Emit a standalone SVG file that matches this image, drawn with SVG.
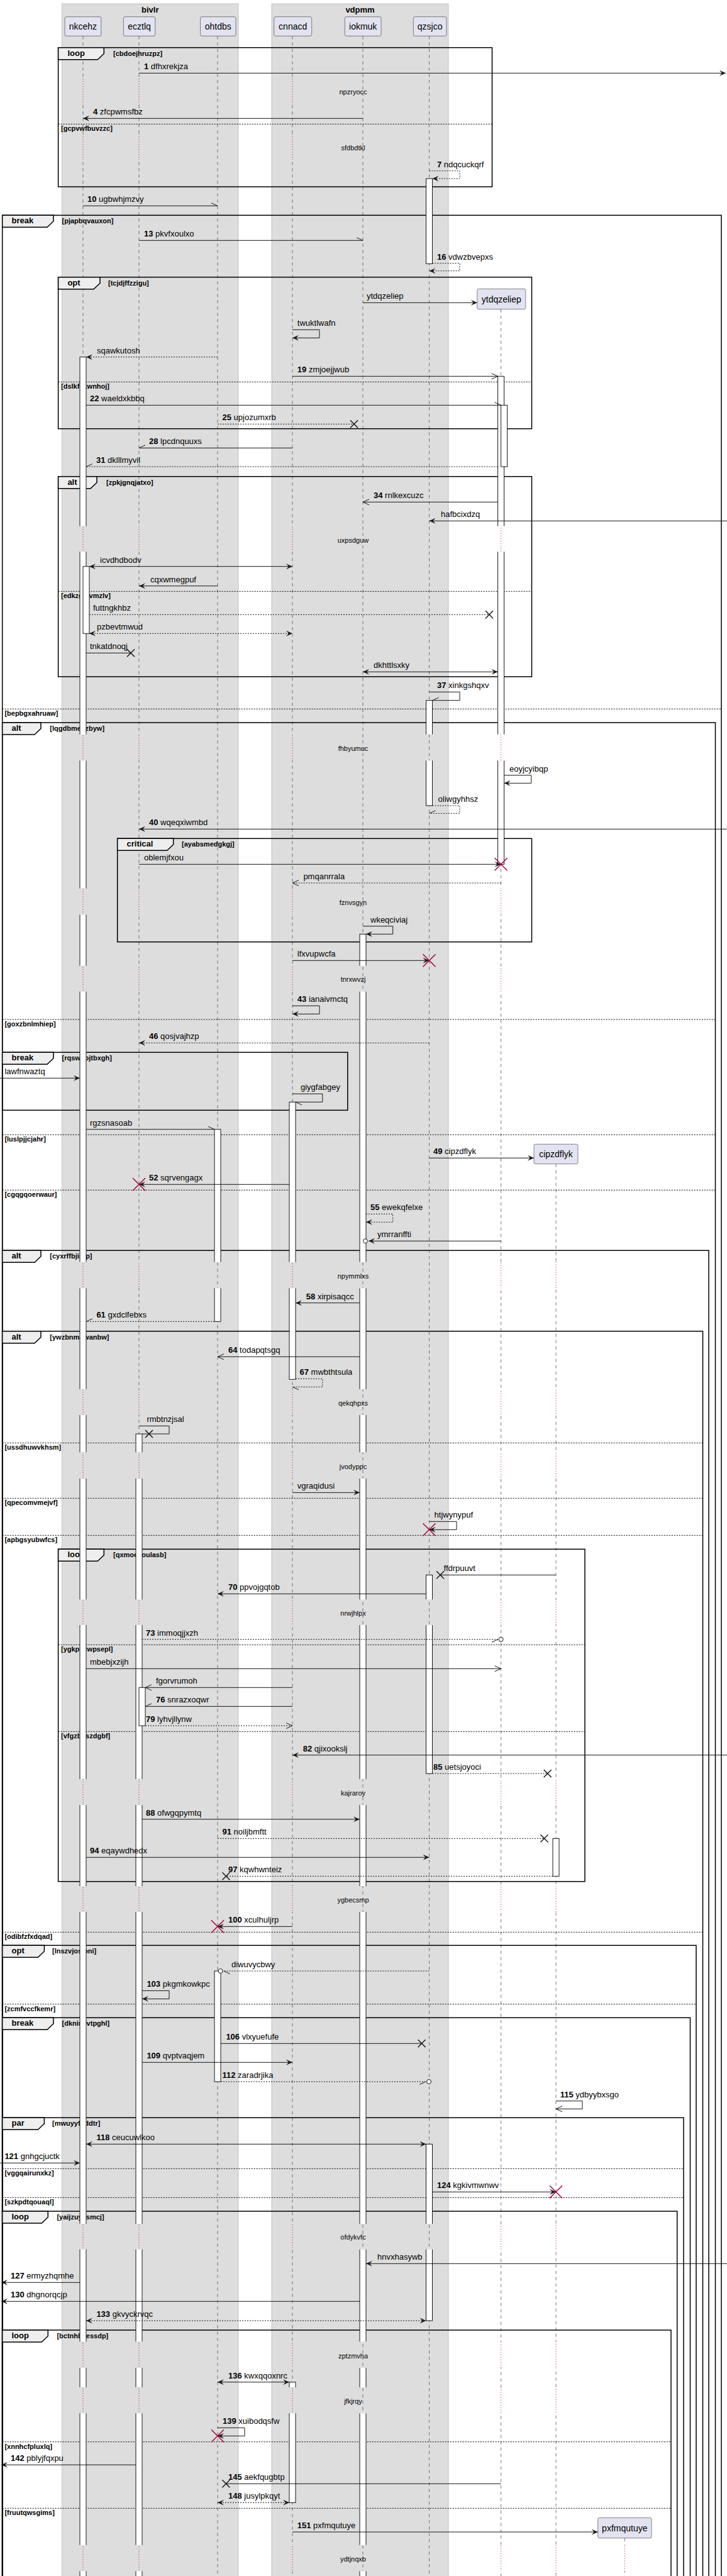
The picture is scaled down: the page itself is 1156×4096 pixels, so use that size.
<svg xmlns="http://www.w3.org/2000/svg" width="1156" height="4096" viewBox="0 0 1156 4096">
<style>
text{font-family:'Liberation Sans',Arial,sans-serif;fill:#000}
.m{font-size:13px}
.dt{font-size:11px;text-anchor:middle}
.c{font-size:11px;font-weight:bold}
.k{font-size:13px;font-weight:bold}
.p{font-size:14px;text-anchor:middle}
.bt{font-size:13px;font-weight:bold;text-anchor:middle}
.lf{stroke:#555;stroke-width:.8;stroke-dasharray:5,5;fill:none}
.dl{stroke:#A80036;stroke-width:1;stroke-dasharray:1,3;fill:none}
.act rect{fill:#fff;stroke:#181818;stroke-width:1}
.ms{fill:none;stroke:#181818;stroke-width:1}
.ds{stroke-dasharray:2,2}
.fr{fill:none;stroke:#000;stroke-width:1.5}
.tb{fill:#EEEEEE;stroke:#000;stroke-width:1.5}
.sp{fill:none;stroke:#000;stroke-width:1;stroke-dasharray:2,2}
.rx{stroke:#A80036;stroke-width:1.5;fill:none}
.bx{stroke:#181818;stroke-width:1.5;fill:none}
.pb{fill:#E2E2F0;stroke:#181818;stroke-width:.5}
.bg{fill:#DDDDDD;stroke:#999;stroke-width:.5}
.ci{fill:#fff;stroke:#181818;stroke-width:1}
</style>
<defs>
<marker id="f" markerUnits="userSpaceOnUse" orient="auto-start-reverse" overflow="visible" markerWidth="12" markerHeight="12"><path d="M0,0L-10,-4.5L-6,0L-10,4.5Z" fill="#181818"/></marker>
<marker id="o" markerUnits="userSpaceOnUse" orient="auto" overflow="visible" markerWidth="12" markerHeight="12"><path d="M-10,-4.5L0,0L-10,4.5" fill="none" stroke="#181818" stroke-width="1"/></marker>
<marker id="u" markerUnits="userSpaceOnUse" orient="auto" overflow="visible" markerWidth="12" markerHeight="12"><path d="M-10,-4.5L0,0" fill="none" stroke="#181818" stroke-width="1"/></marker>
<marker id="d" markerUnits="userSpaceOnUse" orient="auto" overflow="visible" markerWidth="12" markerHeight="12"><path d="M-10,4.5L0,0" fill="none" stroke="#181818" stroke-width="1"/></marker>
<path id="rX" class="rx" d="M-10,-10L10,10M10,-10L-10,10"/>
<path id="bX" class="bx" d="M-6,-6L6,6M6,-6L-6,6"/>
<g id="bands">
<rect y="125" width="1156" height="41"/><rect y="213" width="1156" height="41"/>
<rect y="836.7" width="1156" height="40.6"/><rect y="1167.7" width="1156" height="41.6"/>
<rect y="1412.7" width="1156" height="41.6"/><rect y="1535.7" width="1156" height="41"/>
<rect y="2006.7" width="1156" height="41.6"/><rect y="2209" width="1156" height="41"/>
<rect y="2309.3" width="1156" height="41.7"/><rect y="2543.3" width="1156" height="40.7"/>
<rect y="2829" width="1156" height="41"/><rect y="2999" width="1156" height="41"/>
<rect y="3536" width="1156" height="40.7"/><rect y="3723.3" width="1156" height="41.7"/>
<rect y="3796" width="1156" height="41.3"/><rect y="4046.7" width="1156" height="41.6"/>
</g>
<mask id="gap" maskUnits="userSpaceOnUse" x="0" y="0" width="1156" height="4200"><rect width="1156" height="4200" fill="#fff"/><use href="#bands" fill="#000"/></mask>
<mask id="dly" maskUnits="userSpaceOnUse" x="0" y="0" width="1156" height="4200"><use href="#bands" fill="#fff"/></mask>
</defs>
<rect width="1156" height="4096" fill="#fff"/>

<g id="box-bivlr"><rect class="bg" x="98.5" y="6" width="280.5" height="4100"/><text class="bt" x="238.8" y="19.5">bivlr</text></g>
<g id="box-vdpmm"><rect class="bg" x="432" y="6" width="281" height="4100"/><text class="bt" x="572.5" y="19.5">vdpmm</text></g>

<g id="lifelines">
<path class="lf" mask="url(#gap)" d="M132,57.3V4100M221,57.3V4100M465,57.3V4100M796.6,491.7V4100M884,1850.7V4100M993.3,4035.7V4100"/>
<path class="dl" mask="url(#dly)" d="M132,57.3V4100M221,57.3V4100M465,57.3V4100M796.6,491.7V4100M884,1850.7V4100M993.3,4035.7V4100"/>
<path class="lf" d="M346,57.3V4100M577,57.3V4100M682.5,57.3V4100"/>
</g>

<g id="frames">
<rect class="fr" x="92.6" y="75.7" width="689.9" height="221.3"/>
<rect class="fr" x="3.7" y="342.3" width="1143.3" height="3800"/>
<rect class="fr" x="92.6" y="440.7" width="752.9" height="241"/>
<rect class="fr" x="92.6" y="757.7" width="752.9" height="318.3"/>
<rect class="fr" x="3.7" y="1149" width="1133.8" height="3000"/>
<rect class="fr" x="186.7" y="1333.3" width="658.8" height="164.4"/>
<rect class="fr" x="3.7" y="1673.3" width="549.1" height="92"/>
<rect class="fr" x="3.7" y="1988.3" width="1123.3" height="2200"/>
<rect class="fr" x="3.7" y="2116.7" width="1113.8" height="2100"/>
<rect class="fr" x="92.6" y="2463.3" width="837.4" height="528.4"/>
<rect class="fr" x="3.7" y="3093.3" width="1103.3" height="1100"/>
<rect class="fr" x="3.7" y="3208.3" width="1093.8" height="1000"/>
<rect class="fr" x="3.7" y="3367.3" width="1083.3" height="800"/>
<rect class="fr" x="3.7" y="3516" width="1073" height="700"/>
<rect class="fr" x="3.7" y="3705" width="1063.3" height="500"/>
<path class="tb" d="M92.6,75.7H165.3V85.2L155.3,94.7H92.6Z"/>
<path class="tb" d="M3.7,342.3H85V351.8L75,361.3H3.7Z"/>
<path class="tb" d="M92.6,440.7H159V450.2L149,459.7H92.6Z"/>
<path class="tb" d="M92.6,757.7H154V767.2L144,776.7H92.6Z"/>
<path class="tb" d="M3.7,1149H65V1158.5L55,1168H3.7Z"/>
<path class="tb" d="M186.7,1333.3H275.7V1342.8L265.7,1352.3H186.7Z"/>
<path class="tb" d="M3.7,1673.3H85V1682.8L75,1692.3H3.7Z"/>
<path class="tb" d="M3.7,1988.3H65V1997.8L55,2007.3H3.7Z"/>
<path class="tb" d="M3.7,2116.7H65V2126.2L55,2135.7H3.7Z"/>
<path class="tb" d="M92.6,2463.3H165.3V2472.8L155.3,2482.3H92.6Z"/>
<path class="tb" d="M3.7,3093.3H70.4V3102.8L60.4,3112.3H3.7Z"/>
<path class="tb" d="M3.7,3208.3H85V3217.8L75,3227.3H3.7Z"/>
<path class="tb" d="M3.7,3367.3H70.4V3376.8L60.4,3386.3H3.7Z"/>
<path class="tb" d="M3.7,3516H76.3V3525.5L66.3,3535H3.7Z"/>
<path class="tb" d="M3.7,3705H76.3V3714.5L66.3,3724H3.7Z"/>
<path class="sp" d="M92.6,197.3H782.5M92.6,607.3H845.5M92.6,940.3H845.5M3.7,1127.3H1147M3.7,1621H1137.5M3.7,1804.3H1137.5M3.7,1892.3H1137.5M3.7,2294.3H1117.5M3.7,2382.3H1117.5M3.7,2441.3H1117.5M92.6,2615.3H930M92.6,2753.3H930M3.7,3072.3H1117.5M3.7,3186.7H1107M3.7,3448.3H1087M3.7,3494.3H1087M3.7,3882.7H1067M3.7,3988.3H1067"/>
<text class="k" x="107.4" y="88.7">loop</text><text class="c" x="180" y="88.7">[cbdoejhruzpz]</text>
<text class="k" x="18.5" y="355.3">break</text><text class="c" x="98.5" y="355.3">[pjapbqvauxon]</text>
<text class="k" x="107.4" y="453.7">opt</text><text class="c" x="172" y="453.7">[tcjdjffzzigu]</text>
<text class="k" x="107.4" y="770.7">alt</text><text class="c" x="169" y="770.7">[zpkjgnqjatxo]</text>
<text class="k" x="18.5" y="1162">alt</text><text class="c" x="79.3" y="1162">[lqgdbmeuzbyw]</text>
<text class="k" x="201.5" y="1346.3">critical</text><text class="c" x="289" y="1346.3">[ayabsmedgkgj]</text>
<text class="k" x="18.5" y="1686.3">break</text><text class="c" x="98.5" y="1686.3">[rqswnojtbxgh]</text>
<text class="k" x="18.5" y="2001.3">alt</text><text class="c" x="79.3" y="2001.3">[cyxrffbjirkp]</text>
<text class="k" x="18.5" y="2129.7">alt</text><text class="c" x="79.3" y="2129.7">[ywzbnmgwanbw]</text>
<text class="k" x="107.4" y="2476.3">loop</text><text class="c" x="180" y="2476.3">[qxmoexoulasb]</text>
<text class="k" x="18.5" y="3106.3">opt</text><text class="c" x="83" y="3106.3">[lnszvjosjoni]</text>
<text class="k" x="18.5" y="3221.3">break</text><text class="c" x="98.5" y="3221.3">[dkninevtpghl]</text>
<text class="k" x="18.5" y="3380.3">par</text><text class="c" x="83" y="3380.3">[mwuyyffjddtr]</text>
<text class="k" x="18.5" y="3529">loop</text><text class="c" x="90.4" y="3529">[yaijzuyxsmcj]</text>
<text class="k" x="18.5" y="3718">loop</text><text class="c" x="90.4" y="3718">[bctnhbcessdp]</text>
<text class="c" x="97" y="208.3">[gcpvwfbuvzzc]</text>
<text class="c" x="97" y="618.3">[dslkfckwnhoj]</text>
<text class="c" x="97" y="951.3">[edkzgbivmzlv]</text>
<text class="c" x="7.4" y="1138.3">[bepbgxahruaw]</text>
<text class="c" x="7.4" y="1632">[goxzbnlmhiep]</text>
<text class="c" x="7.4" y="1815.3">[luslpjjcjahr]</text>
<text class="c" x="7.4" y="1903.3">[cgqgqoerwaur]</text>
<text class="c" x="7.4" y="2305.3">[ussdhuwvkhsm]</text>
<text class="c" x="7.4" y="2393.3">[qpecomvmejvf]</text>
<text class="c" x="7.4" y="2452.3">[apbgsyubwfcs]</text>
<text class="c" x="97" y="2626.3">[ygkpkcwpsepl]</text>
<text class="c" x="97" y="2764.3">[vfgzbpszdgbf]</text>
<text class="c" x="7.4" y="3083.3">[odibfzfxdqad]</text>
<text class="c" x="7.4" y="3197.7">[zcmfvccfkemr]</text>
<text class="c" x="7.4" y="3459.3">[vggqairunxkz]</text>
<text class="c" x="7.4" y="3505.3">[szkpdtqouaql]</text>
<text class="c" x="7.4" y="3893.7">[xnnhcfpluxlq]</text>
<text class="c" x="7.4" y="3999.3">[fruutqwsgims]</text>
</g>

<g id="activations" class="act" mask="url(#gap)">
<rect x="127" y="567.7" width="10" height="3540"/>
<rect x="132" y="900.7" width="10" height="106.6"/>
<rect x="216" y="2280" width="10" height="1830"/>
<rect x="221" y="2683.3" width="10" height="60.7"/>
<rect x="341" y="1795.7" width="10" height="305.6"/>
<rect x="341" y="3134" width="10" height="176"/>
<rect x="460" y="1752.3" width="10" height="441"/>
<rect x="460" y="3787.7" width="10" height="191.6"/>
<rect x="572" y="1485.3" width="10" height="2630"/>
<rect x="677.5" y="284" width="10" height="135.3"/>
<rect x="677.5" y="1113.7" width="10" height="167.3"/>
<rect x="677.5" y="2504.3" width="10" height="315.7"/>
<rect x="677.5" y="3409.3" width="10" height="280.7"/>
<rect x="791.6" y="598.3" width="10" height="776"/>
<rect x="796.6" y="644.3" width="10" height="97.7"/>
<rect x="879" y="2923.3" width="10" height="60"/>
</g>

<g id="connectors">
<path class="ms" d="M221,116.3H1154" marker-end="url(#f)"/>
<path class="ms" d="M577,188.3H132" marker-end="url(#f)"/>
<path class="ms ds" d="M682.5,271.7H731V284H687.5" marker-end="url(#f)"/>
<path class="ms" d="M132,327.3H346" marker-end="url(#u)"/>
<path class="ms" d="M221,382.3H577" marker-end="url(#u)"/>
<path class="ms ds" d="M687.5,418.7H731V430.7H682.5" marker-end="url(#f)"/>
<path class="ms" d="M577,481.3H758.8" marker-end="url(#f)"/>
<path class="ms" d="M465,524.3H508V537.3H465" marker-end="url(#f)"/>
<path class="ms ds" d="M346,567.7H137" marker-end="url(#f)"/>
<path class="ms" d="M465,598.3H791.6" marker-end="url(#o)"/>
<path class="ms" d="M137,644.3H796.6" marker-end="url(#u)"/>
<path class="ms ds" d="M346,674.3H563"/><use href="#bX" x="563" y="674.3"/>
<path class="ms" d="M465,712.3H221" marker-end="url(#d)"/>
<path class="ms ds" d="M791.6,742H137" marker-end="url(#d)"/>
<path class="ms" d="M791.6,798.3H577" marker-end="url(#o)"/>
<path class="ms" d="M1160,828.3H682.5" marker-end="url(#f)"/>
<path class="ms" d="M142,900.7H465" marker-start="url(#f)" marker-end="url(#f)"/>
<path class="ms" d="M346,931.7H221" marker-end="url(#f)"/>
<path class="ms ds" d="M142,977.3H778"/><use href="#bX" x="778" y="977.3"/>
<path class="ms ds" d="M142,1007.3H465" marker-start="url(#f)" marker-end="url(#f)"/>
<path class="ms" d="M137,1038.3H208"/><use href="#bX" x="208" y="1038.3"/>
<path class="ms" d="M577,1068.3H791.6" marker-start="url(#f)" marker-end="url(#f)"/>
<path class="ms" d="M682.5,1100.3H731V1113.7H687.5" marker-end="url(#d)"/>
<path class="ms" d="M801.6,1232.7H844.8V1245.3H801.6" marker-end="url(#f)"/>
<path class="ms ds" d="M687.5,1281H731V1293.3H682.5" marker-end="url(#d)"/>
<path class="ms" d="M1160,1318.3H221" marker-end="url(#f)"/>
<path class="ms" d="M221,1374.3H796.6" marker-end="url(#f)"/><use href="#rX" x="796.6" y="1374.3"/>
<path class="ms ds" d="M796.6,1404H465" marker-end="url(#o)"/>
<path class="ms" d="M577,1472.7H624.7V1485.3H582" marker-end="url(#f)"/>
<path class="ms" d="M465,1527.3H682.5" marker-end="url(#f)"/><use href="#rX" x="682.5" y="1527.3"/>
<path class="ms" d="M465,1599.3H508V1612.3H465" marker-end="url(#f)"/>
<path class="ms ds" d="M682.5,1658.3H221" marker-end="url(#f)"/>
<path class="ms" d="M0,1714.3H127" marker-end="url(#f)"/>
<path class="ms" d="M465,1739.3H512.8V1752.3H470" marker-end="url(#u)"/>
<path class="ms" d="M137,1795.7H341" marker-end="url(#u)"/>
<path class="ms" d="M682.5,1841.3H849" marker-end="url(#f)"/>
<path class="ms" d="M460,1883.3H221" marker-end="url(#f)"/><use href="#rX" x="221" y="1883.3"/>
<path class="ms ds" d="M582,1930.3H624.7V1943.3H582" marker-end="url(#f)"/>
<path class="ms" d="M796.6,1973.3H586" marker-end="url(#f)"/><circle class="ci" cx="581" cy="1973.3" r="3.5"/>
<path class="ms" d="M572,2071.7H470" marker-end="url(#f)"/>
<path class="ms ds" d="M341,2101.3H137" marker-end="url(#d)"/>
<path class="ms" d="M572,2157.3H346" marker-end="url(#o)"/>
<path class="ms ds" d="M470,2192.3H512.8V2205.3H465" marker-end="url(#u)"/>
<path class="ms" d="M221,2267.3H269V2280H226"/><use href="#bX" x="237" y="2280"/>
<path class="ms" d="M465,2373.3H572" marker-end="url(#f)"/>
<path class="ms" d="M682.5,2419.3H726V2432.3H682.5" marker-end="url(#f)"/><use href="#rX" x="682.5" y="2432.3"/>
<path class="ms" d="M884,2504.3H700"/><use href="#bX" x="700" y="2504.3"/>
<path class="ms" d="M677.5,2534.3H346" marker-end="url(#f)"/>
<path class="ms ds" d="M226,2606.7H792" marker-end="url(#d)"/><circle class="ci" cx="796.6" cy="2606.7" r="3.5"/>
<path class="ms" d="M137,2653.3H796.6" marker-end="url(#o)"/>
<path class="ms" d="M465,2683.3H231" marker-end="url(#o)"/>
<path class="ms" d="M465,2713.3H231" marker-end="url(#d)"/>
<path class="ms ds" d="M231,2744H465" marker-end="url(#o)"/>
<path class="ms" d="M1160,2790.7H465" marker-end="url(#f)"/>
<path class="ms ds" d="M687.5,2820H870.7"/><use href="#bX" x="870.7" y="2820"/>
<path class="ms" d="M226,2892.7H572" marker-end="url(#f)"/>
<path class="ms ds" d="M346,2923.3H865.5"/><use href="#bX" x="865.5" y="2923.3"/>
<path class="ms" d="M137,2953.3H682.5" marker-end="url(#f)"/>
<path class="ms ds" d="M879,2983.3H359.4"/><use href="#bX" x="359.4" y="2983.3"/>
<path class="ms" d="M465,3063.3H346" marker-end="url(#f)"/><use href="#rX" x="346" y="3063.3"/>
<path class="ms ds" d="M682.5,3134H355.5" marker-end="url(#u)"/><circle class="ci" cx="350.5" cy="3134" r="3.5"/>
<path class="ms" d="M226,3165.3H269V3178.3H226" marker-end="url(#f)"/>
<path class="ms" d="M351,3249.3H670.6"/><use href="#bX" x="670.6" y="3249.3"/>
<path class="ms" d="M226,3279.3H465" marker-end="url(#f)"/>
<path class="ms ds" d="M351,3310H677" marker-end="url(#d)"/><circle class="ci" cx="682" cy="3310" r="3.5"/>
<path class="ms" d="M884,3340.7H926V3353.3H884" marker-end="url(#o)"/>
<path class="ms" d="M137,3409.3H677.5" marker-start="url(#f)" marker-end="url(#f)"/>
<path class="ms" d="M0,3439.3H127" marker-end="url(#f)"/>
<path class="ms" d="M687.5,3485.3H884" marker-end="url(#f)"/><use href="#rX" x="884" y="3485.3"/>
<path class="ms" d="M1160,3599.3H582" marker-end="url(#f)"/>
<path class="ms" d="M127,3629.3H2" marker-end="url(#f)"/>
<path class="ms" d="M572,3659.3H2" marker-end="url(#f)"/>
<path class="ms ds" d="M137,3690H677.5" marker-start="url(#f)" marker-end="url(#f)"/>
<path class="ms" d="M346,3787.7H460" marker-start="url(#f)" marker-end="url(#f)"/>
<path class="ms" d="M346,3860.3H389V3873.3H346" marker-end="url(#f)"/><use href="#rX" x="346" y="3873.3"/>
<path class="ms" d="M216,3919.3H2" marker-end="url(#f)"/>
<path class="ms" d="M796.6,3949.3H359.4"/><use href="#bX" x="359.4" y="3949.3"/>
<path class="ms ds" d="M346,3979.3H460" marker-start="url(#f)" marker-end="url(#f)"/>
<path class="ms" d="M465,4026H950.7" marker-end="url(#f)"/>
</g>

<g id="p-nkcehz"><rect class="pb" x="103" y="26.7" width="57.8" height="30.6" rx="2.5"/><text class="p" x="131.9" y="47">nkcehz</text></g>
<g id="p-ecztlq"><rect class="pb" x="196.4" y="26.7" width="50.4" height="30.6" rx="2.5"/><text class="p" x="221.6" y="47">ecztlq</text></g>
<g id="p-ohtdbs"><rect class="pb" x="318.6" y="26.7" width="56.4" height="30.6" rx="2.5"/><text class="p" x="346.8" y="47">ohtdbs</text></g>
<g id="p-cnnacd"><rect class="pb" x="435.7" y="26.7" width="60" height="30.6" rx="2.5"/><text class="p" x="465.7" y="47">cnnacd</text></g>
<g id="p-iokmuk"><rect class="pb" x="548.3" y="26.7" width="57.7" height="30.6" rx="2.5"/><text class="p" x="577.2" y="47">iokmuk</text></g>
<g id="p-qzsjco"><rect class="pb" x="657.3" y="26.7" width="52.7" height="30.6" rx="2.5"/><text class="p" x="683.6" y="47">qzsjco</text></g>
<g id="p-ytdqzeliep"><rect class="pb" x="758.8" y="459.3" width="77" height="32.4" rx="2.5"/><text class="p" x="797.3" y="480.5">ytdqzeliep</text></g>
<g id="p-cipzdflyk"><rect class="pb" x="849" y="1819.3" width="70" height="31.4" rx="2.5"/><text class="p" x="884" y="1840">cipzdflyk</text></g>
<g id="p-pxfmqutuye"><rect class="pb" x="950.7" y="4003.3" width="85.3" height="32.4" rx="2.5"/><text class="p" x="993.3" y="4024.5">pxfmqutuye</text></g>

<g id="delays">
<text class="dt" x="561.5" y="150">npzryocc</text>
<text class="dt" x="561.5" y="238.5">sfdbdtkl</text>
<text class="dt" x="561.5" y="863">uxpsdguw</text>
<text class="dt" x="561.5" y="1194">fhbyumuc</text>
<text class="dt" x="561.5" y="1439">fznvsgyn</text>
<text class="dt" x="561.5" y="1561">tnrxwvzj</text>
<text class="dt" x="561.5" y="2033">npymmlxs</text>
<text class="dt" x="561.5" y="2234.5">qekqhpxs</text>
<text class="dt" x="561.5" y="2335.5">jvodyppc</text>
<text class="dt" x="561.5" y="2569">nrwjhlpx</text>
<text class="dt" x="561.5" y="2854.5">kajraroy</text>
<text class="dt" x="561.5" y="3024.5">ygbecsmp</text>
<text class="dt" x="561.5" y="3560.5">ofdykvfc</text>
<text class="dt" x="561.5" y="3749.5">zptzmvha</text>
<text class="dt" x="561.5" y="3822">jfkjrqy</text>
<text class="dt" x="561.5" y="4073">ydtjnqxb</text>
</g>

<g id="labels" class="m">
<text class="m" x="229" y="110.3"><tspan font-weight="bold">1</tspan> dfhxrekjza</text>
<text class="m" x="148" y="182.3"><tspan font-weight="bold">4</tspan> zfcpwmsfbz</text>
<text class="m" x="695" y="265.7"><tspan font-weight="bold">7</tspan> ndqcuckqrf</text>
<text class="m" x="139" y="321.3"><tspan font-weight="bold">10</tspan> ugbwhjmzvy</text>
<text class="m" x="229" y="376.3"><tspan font-weight="bold">13</tspan> pkvfxoulxo</text>
<text class="m" x="695" y="412.7"><tspan font-weight="bold">16</tspan> vdwzbvepxs</text>
<text class="m" x="583" y="475.3">ytdqzeliep</text>
<text class="m" x="472.8" y="518.3">twuktlwafn</text>
<text class="m" x="154" y="561.7">sqawkutosh</text>
<text class="m" x="472.8" y="592.3"><tspan font-weight="bold">19</tspan> zmjoejjwub</text>
<text class="m" x="143" y="638.3"><tspan font-weight="bold">22</tspan> waeldxkbbq</text>
<text class="m" x="353.5" y="668.3"><tspan font-weight="bold">25</tspan> upjozumxrb</text>
<text class="m" x="237" y="706.3"><tspan font-weight="bold">28</tspan> lpcdnquuxs</text>
<text class="m" x="153" y="736"><tspan font-weight="bold">31</tspan> dklllmyvil</text>
<text class="m" x="594" y="792.3"><tspan font-weight="bold">34</tspan> rnlkexcuzc</text>
<text class="m" x="701" y="822.3">hafbcixdzq</text>
<text class="m" x="159" y="894.7">icvdhdbodv</text>
<text class="m" x="239" y="925.7">cqxwmegpuf</text>
<text class="m" x="148" y="971.3">futtngkhbz</text>
<text class="m" x="154" y="1001.3">pzbevtmwud</text>
<text class="m" x="143" y="1032.3">tnkatdnoqj</text>
<text class="m" x="594" y="1062.3">dkhttlsxky</text>
<text class="m" x="695" y="1094.3"><tspan font-weight="bold">37</tspan> xinkgshqxv</text>
<text class="m" x="810" y="1226.7">eoyjcyibqp</text>
<text class="m" x="696.6" y="1275">oliwgyhhsz</text>
<text class="m" x="237" y="1312.3"><tspan font-weight="bold">40</tspan> wqeqxiwmbd</text>
<text class="m" x="229" y="1368.3">oblemjfxou</text>
<text class="m" x="482.4" y="1398">pmqanrrala</text>
<text class="m" x="589" y="1466.7">wkeqciviaj</text>
<text class="m" x="472.8" y="1521.3">lfxvupwcfa</text>
<text class="m" x="472.8" y="1593.3"><tspan font-weight="bold">43</tspan> ianaivmctq</text>
<text class="m" x="237" y="1652.3"><tspan font-weight="bold">46</tspan> qosjvajhzp</text>
<text class="m" x="7.4" y="1708.3">lawfnwaztq</text>
<text class="m" x="478" y="1733.3">giygfabgey</text>
<text class="m" x="143" y="1789.7">rgzsnasoab</text>
<text class="m" x="689" y="1835.3"><tspan font-weight="bold">49</tspan> cipzdflyk</text>
<text class="m" x="237" y="1877.3"><tspan font-weight="bold">52</tspan> sqrvengagx</text>
<text class="m" x="589" y="1924.3"><tspan font-weight="bold">55</tspan> ewekqfelxe</text>
<text class="m" x="600" y="1967.3">ymrranffti</text>
<text class="m" x="486.8" y="2065.7"><tspan font-weight="bold">58</tspan> xirpisaqcc</text>
<text class="m" x="153.4" y="2095.3"><tspan font-weight="bold">61</tspan> gxdclfebxs</text>
<text class="m" x="363" y="2151.3"><tspan font-weight="bold">64</tspan> todapqtsgq</text>
<text class="m" x="476.5" y="2186.3"><tspan font-weight="bold">67</tspan> mwbthtsula</text>
<text class="m" x="233.4" y="2261.3">rmbtnzjsal</text>
<text class="m" x="472.8" y="2367.3">vgraqidusi</text>
<text class="m" x="690.6" y="2413.3">htjwynypuf</text>
<text class="m" x="705.5" y="2498.3">ffdrpuuvt</text>
<text class="m" x="363" y="2528.3"><tspan font-weight="bold">70</tspan> ppvojgqtob</text>
<text class="m" x="232" y="2600.7"><tspan font-weight="bold">73</tspan> immoqjjxzh</text>
<text class="m" x="143" y="2647.3">mbebjxzijh</text>
<text class="m" x="248" y="2677.3">fgorvrumoh</text>
<text class="m" x="248" y="2707.3"><tspan font-weight="bold">76</tspan> snrazxoqwr</text>
<text class="m" x="232" y="2738"><tspan font-weight="bold">79</tspan> lyhvjllynw</text>
<text class="m" x="481.7" y="2784.7"><tspan font-weight="bold">82</tspan> qjixookslj</text>
<text class="m" x="689" y="2814"><tspan font-weight="bold">85</tspan> uetsjoyoci</text>
<text class="m" x="232" y="2886.7"><tspan font-weight="bold">88</tspan> ofwgqpymtq</text>
<text class="m" x="353.5" y="2917.3"><tspan font-weight="bold">91</tspan> noiljbmftt</text>
<text class="m" x="143" y="2947.3"><tspan font-weight="bold">94</tspan> eqaywdhedx</text>
<text class="m" x="363" y="2977.3"><tspan font-weight="bold">97</tspan> kqwhwnteiz</text>
<text class="m" x="363" y="3057.3"><tspan font-weight="bold">100</tspan> xculhuljrp</text>
<text class="m" x="368" y="3128">diwuvycbwy</text>
<text class="m" x="233.4" y="3159.3"><tspan font-weight="bold">103</tspan> pkgmkowkpc</text>
<text class="m" x="359.4" y="3243.3"><tspan font-weight="bold">106</tspan> vlxyuefufe</text>
<text class="m" x="233.4" y="3273.3"><tspan font-weight="bold">109</tspan> qvptvaqjem</text>
<text class="m" x="353.5" y="3304"><tspan font-weight="bold">112</tspan> zaradrjika</text>
<text class="m" x="890.7" y="3334.7"><tspan font-weight="bold">115</tspan> ydbyybxsgo</text>
<text class="m" x="153.4" y="3403.3"><tspan font-weight="bold">118</tspan> ceucuwlkoo</text>
<text class="m" x="7.4" y="3433.3"><tspan font-weight="bold">121</tspan> gnhgcjuctk</text>
<text class="m" x="695" y="3479.3"><tspan font-weight="bold">124</tspan> kgkivmwnwv</text>
<text class="m" x="600" y="3593.3">hnvxhasywb</text>
<text class="m" x="17" y="3623.3"><tspan font-weight="bold">127</tspan> ermyzhqmhe</text>
<text class="m" x="17" y="3653.3"><tspan font-weight="bold">130</tspan> dhgnorqcjp</text>
<text class="m" x="153.4" y="3684"><tspan font-weight="bold">133</tspan> gkvyckrvqc</text>
<text class="m" x="363" y="3781.7"><tspan font-weight="bold">136</tspan> kwxqqoxnrc</text>
<text class="m" x="354" y="3854.3"><tspan font-weight="bold">139</tspan> xuibodqsfw</text>
<text class="m" x="17" y="3913.3"><tspan font-weight="bold">142</tspan> pblyjfqxpu</text>
<text class="m" x="363" y="3943.3"><tspan font-weight="bold">145</tspan> aekfqugbtp</text>
<text class="m" x="363" y="3973.3"><tspan font-weight="bold">148</tspan> jusylpkqyt</text>
<text class="m" x="472.8" y="4020"><tspan font-weight="bold">151</tspan> pxfmqutuye</text>
</g>
</svg>
